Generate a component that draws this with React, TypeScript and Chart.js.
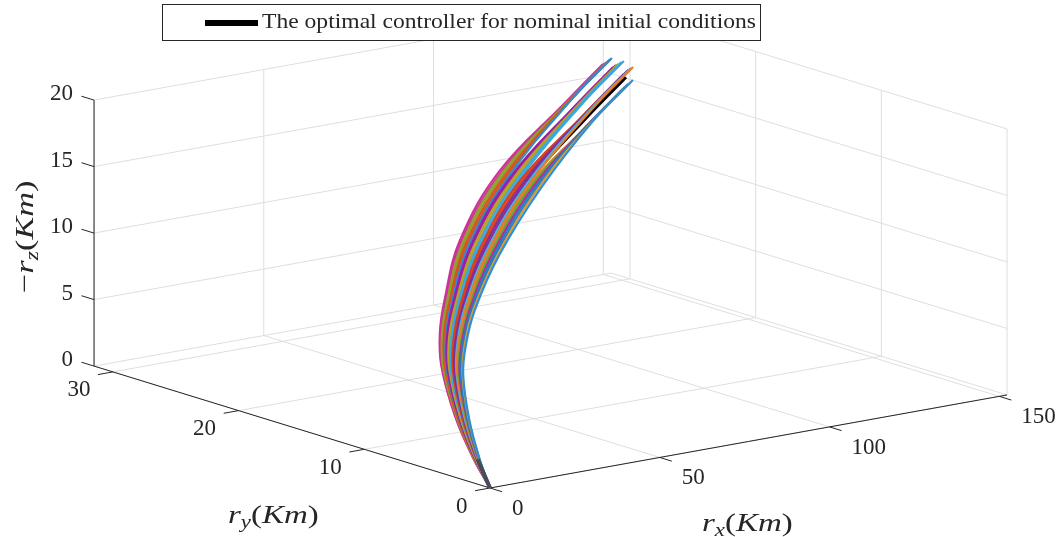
import React, { useEffect, useRef } from "react";
import { Chart, registerables } from "chart.js";

Chart.register(...registerables);

const xTicks = [0, 50, 100, 150];
const yTicks = [0, 10, 20, 30];
const zTicks = [0, 5, 10, 15, 20];
const xMax = 152.3;
const yMax = 31.5;
const zMax = 20;

const legendText = "The optimal controller for nominal initial conditions";

// Altitude samples shared by every run (-r_z, km)
const rzSamples = [0, 1, 2.5, 5, 6.5, 8, 11, 14, 17.5, 20];

// r_x of each run (km)
const rxRuns = [
  [0, 7.0, 16.6, 24.0, 32.1, 40.9, 55.3, 80.6, 104.8, 116.4],
  [0, 7.0, 16.6, 23.9, 32.0, 40.9, 55.2, 80.6, 105.8, 117.4],
  [0, 7.0, 16.7, 23.9, 31.9, 40.9, 55.2, 80.4, 106.7, 118.3],
  [0, 7.0, 16.7, 23.9, 31.8, 40.9, 55.1, 80.4, 108.0, 119.6],
  [0, 7.0, 16.7, 23.9, 31.7, 40.9, 55.1, 80.3, 108.8, 120.4],
  [0, 7.0, 16.8, 23.8, 31.6, 40.8, 55.1, 80.3, 109.3, 120.9],
  [0, 7.0, 16.8, 23.8, 31.5, 40.8, 55.0, 80.2, 110.1, 121.7],
  [0, 7.0, 16.8, 23.8, 31.4, 40.8, 55.0, 80.2, 104.9, 116.5],
  [0, 7.0, 16.9, 23.7, 31.3, 40.8, 54.9, 80.0, 106.6, 118.2],
  [0, 7.0, 16.9, 23.7, 31.2, 40.8, 54.9, 79.9, 107.6, 119.2],
  [0, 7.0, 16.9, 23.7, 31.1, 40.7, 54.9, 79.9, 108.6, 120.2],
  [0, 7.0, 17.0, 23.6, 31.0, 40.7, 54.8, 79.8, 109.5, 121.1],
  [0, 7.0, 17.0, 23.6, 31.0, 40.7, 54.8, 79.8, 110.5, 122.1],
  [0, 7.0, 17.0, 23.6, 30.9, 40.7, 54.7, 79.6, 100.3, 111.9],
  [0, 7.0, 17.0, 23.6, 30.8, 40.7, 54.7, 79.6, 102.6, 114.2],
  [0, 7.0, 17.1, 23.5, 30.7, 40.7, 54.6, 79.5, 105.1, 116.7],
  [0, 7.0, 17.1, 23.5, 30.6, 40.6, 54.6, 79.5, 106.3, 117.9],
  [0, 7.0, 17.1, 23.5, 30.5, 40.6, 54.6, 79.4, 107.6, 119.2],
  [0, 7.0, 17.2, 23.4, 30.4, 40.6, 54.5, 79.4, 108.6, 120.2],
  [0, 7.0, 17.2, 23.4, 30.3, 40.6, 54.5, 79.2, 91.9, 103.5],
  [0, 7.0, 17.2, 23.4, 30.2, 40.6, 54.4, 79.1, 93.4, 105.0],
  [0, 7.0, 17.3, 23.3, 30.1, 40.6, 54.4, 79.1, 95.0, 106.6],
  [0, 7.0, 17.3, 23.3, 30.0, 40.6, 54.3, 79.0, 96.6, 108.2],
  [0, 7.0, 17.3, 23.3, 29.9, 40.5, 54.3, 79.0, 97.8, 109.4],
  [0, 7.0, 17.4, 23.3, 29.8, 40.5, 54.3, 78.8, 99.1, 110.7],
  [0, 7.0, 17.4, 23.2, 29.7, 40.5, 54.2, 78.8, 100.7, 112.3],
];

// r_y of each run (km)
const ryRuns = [
  [0, 3.23, 7.25, 10.34, 12.66, 14.66, 17.34, 21.02, 22.45, 22.45],
  [0, 3.21, 7.21, 10.26, 12.55, 14.56, 17.2, 20.86, 22.55, 22.55],
  [0, 3.19, 7.18, 10.18, 12.44, 14.46, 17.07, 20.72, 22.66, 22.66],
  [0, 3.17, 7.14, 10.11, 12.33, 14.36, 16.93, 20.56, 22.85, 22.85],
  [0, 3.14, 7.11, 10.03, 12.22, 14.26, 16.79, 20.4, 22.98, 22.98],
  [0, 3.12, 7.07, 9.95, 12.12, 14.16, 16.65, 20.25, 23.04, 23.04],
  [0, 3.1, 7.03, 9.87, 12.01, 14.06, 16.52, 20.1, 23.17, 23.17],
  [0, 3.08, 7.0, 9.8, 11.9, 13.95, 16.37, 19.95, 21.67, 21.67],
  [0, 3.06, 6.96, 9.72, 11.79, 13.85, 16.23, 19.79, 21.9, 21.9],
  [0, 3.04, 6.93, 9.64, 11.68, 13.75, 16.1, 19.64, 22.01, 22.01],
  [0, 3.01, 6.89, 9.56, 11.57, 13.65, 15.96, 19.49, 22.11, 22.11],
  [0, 2.99, 6.85, 9.49, 11.46, 13.55, 15.82, 19.33, 22.23, 22.23],
  [0, 2.97, 6.82, 9.41, 11.35, 13.45, 15.68, 19.17, 22.33, 22.33],
  [0, 2.95, 6.78, 9.33, 11.25, 13.35, 15.55, 19.03, 19.81, 19.81],
  [0, 2.93, 6.75, 9.25, 11.14, 13.25, 15.41, 18.87, 20.21, 20.21],
  [0, 2.91, 6.71, 9.18, 11.03, 13.15, 15.27, 18.71, 20.61, 20.61],
  [0, 2.88, 6.67, 9.1, 10.92, 13.05, 15.13, 18.57, 20.79, 20.79],
  [0, 2.86, 6.64, 9.02, 10.81, 12.95, 15.0, 18.41, 20.98, 20.98],
  [0, 2.84, 6.6, 8.94, 10.7, 12.85, 14.86, 18.26, 21.08, 21.08],
  [0, 2.82, 6.57, 8.87, 10.59, 12.74, 14.71, 18.1, 17.53, 17.53],
  [0, 2.8, 6.53, 8.79, 10.48, 12.64, 14.58, 17.95, 17.79, 17.79],
  [0, 2.78, 6.49, 8.71, 10.37, 12.54, 14.44, 17.8, 18.06, 18.06],
  [0, 2.75, 6.46, 8.63, 10.27, 12.44, 14.3, 17.64, 18.32, 18.32],
  [0, 2.73, 6.42, 8.56, 10.16, 12.34, 14.16, 17.48, 18.51, 18.51],
  [0, 2.71, 6.39, 8.48, 10.05, 12.24, 14.03, 17.34, 18.69, 18.69],
  [0, 2.69, 6.35, 8.4, 9.94, 12.14, 13.89, 17.18, 18.96, 18.96],
];

const rxNominal = [0, 7.0, 17.1, 23.5, 30.6, 40.6, 54.9, 79.4, 101.2, 112.8];
const ryNominal = [0, 2.87, 6.65, 9.05, 10.85, 13.0, 15.0, 18.38, 19.66, 19.66];

const runColors = [
  "#D0309A", "#D0309A", "#8FA030", "#8FA030", "#D8521E", "#D8521E", "#2F8FC8",
  "#9A1FA8", "#9A1FA8", "#B8A024", "#B8A024", "#3AA8DC", "#3AA8DC", "#D8401E",
  "#D8401E", "#7E2F9E", "#7E2F9E", "#45B5E5", "#E0802A", "#E0802A", "#5FA83A",
  "#C2268A", "#2C78C4", "#2C78C4", "#E0A028", "#2E8FD8",
];

const GRID = "#dedede";
const AXIS = "#262626";
const TEXT = "#262626";
const SERIF = '"Liberation Serif"';

// Orthographic view of the MATLAB-style 3-D axes (px per km)
const view = {
  ox: 490, oy: 488,
  xx: 3.395, xy: -0.611,
  yx: -12.57, yy: -3.87,
  zy: -13.3,
};
const project = (rx: number, ry: number, rz: number) => ({
  x: view.ox + view.xx * rx + view.yx * ry,
  y: view.oy + view.xy * rx + view.yy * ry + view.zy * rz,
});

type P3 = [number, number, number];
const seg = (a: P3, b: P3, color: string, width: number, label: string) => ({
  label,
  data: [project(...a), project(...b)],
  borderColor: color,
  borderWidth: width,
  pointRadius: 0,
  showLine: true,
  tension: 0,
  fill: false,
});

function buildDatasets() {
  const sets: any[] = [];
  // grid
  xTicks.forEach((x) => {
    sets.push(seg([x, 0, 0], [x, yMax, 0], GRID, 1, "grid"));
    sets.push(seg([x, yMax, 0], [x, yMax, zMax], GRID, 1, "grid"));
  });
  yTicks.forEach((y) => {
    sets.push(seg([0, y, 0], [xMax, y, 0], GRID, 1, "grid"));
    sets.push(seg([xMax, y, 0], [xMax, y, zMax], GRID, 1, "grid"));
  });
  zTicks.forEach((z) => {
    sets.push(seg([0, yMax, z], [xMax, yMax, z], GRID, 1, "grid"));
    sets.push(seg([xMax, 0, z], [xMax, yMax, z], GRID, 1, "grid"));
  });
  // axes and ticks
  sets.push(seg([0, 0, 0], [xMax, 0, 0], AXIS, 1, "axis"));
  sets.push(seg([0, 0, 0], [0, yMax, 0], AXIS, 1, "axis"));
  sets.push(seg([0, yMax, 0], [0, yMax, zMax], AXIS, 1, "axis"));
  xTicks.forEach((x) => sets.push(seg([x, 0, 0], [x, -0.96, 0], AXIS, 1, "tick")));
  yTicks.forEach((y) => sets.push(seg([0, y, 0], [-4.4, y, 0], AXIS, 1, "tick")));
  zTicks.forEach((z) => sets.push(seg([0, yMax, z], [0, yMax + 1.0, z], AXIS, 1, "tick")));
  // black nominal underneath, then the runs
  const curve = (rx: number[], ry: number[], color: string, width: number, label: string) => ({
    label,
    data: rx.map((v, i) => project(v, ry[i], rzSamples[i])),
    borderColor: color,
    borderWidth: width,
    pointRadius: 0,
    showLine: true,
    tension: 0.4,
    fill: false,
  });
  sets.push(curve(rxNominal, ryNominal, "#000000", 3.5, legendText));
  rxRuns.forEach((rx, i) => {
    sets.push(curve(rx, ryRuns[i], runColors[i % runColors.length], 2.2, `run ${i + 1}`));
  });
  // the runs converge at the release point and read as a dark tail there
  sets.push({
    label: "tail",
    data: [0, 1].map((i) => project(rxNominal[i], ryNominal[i], rzSamples[i])),
    borderColor: "rgba(60,60,60,0.75)",
    borderWidth: 4,
    pointRadius: 0,
    showLine: true,
    tension: 0,
    fill: false,
  });
  // Chart.js paints the first dataset last
  return sets.reverse();
}

type Run = { t: string; font: string; dy?: number };
function drawRuns(ctx: CanvasRenderingContext2D, runs: Run[], x: number, y: number, stretch: number) {
  ctx.save();
  ctx.translate(x, y);
  ctx.scale(stretch, 1);
  let cx = 0;
  runs.forEach((r) => {
    ctx.font = r.font;
    ctx.fillText(r.t, cx, r.dy || 0);
    cx += ctx.measureText(r.t).width;
  });
  ctx.restore();
}

const labelPlugin = {
  id: "labels3d",
  afterDatasetsDraw(chart: any) {
    const ctx: CanvasRenderingContext2D = chart.ctx;
    const sx = chart.scales.x;
    const sy = chart.scales.y;
    const at = (p: { x: number; y: number }) => ({ x: sx.getPixelForValue(p.x), y: sy.getPixelForValue(p.y) });
    ctx.save();
    ctx.fillStyle = TEXT;
    ctx.textBaseline = "middle";
    ctx.font = `23px ${SERIF}`;
    ctx.textAlign = "right";
    zTicks.forEach((z) => {
      const p = at(project(0, yMax, z));
      ctx.fillText(String(z), p.x - 21, p.y - 6);
    });
    yTicks.forEach((y) => {
      const p = at(project(0, y, 0));
      ctx.fillText(String(y), p.x - 22.5, p.y + 18.5);
    });
    ctx.textAlign = "left";
    xTicks.forEach((x) => {
      const p = at(project(x, 0, 0));
      ctx.fillText(String(x), p.x + 22, p.y + 21);
    });

    // axis titles
    const it = `italic 26px ${SERIF}`;
    const rm = `26px ${SERIF}`;
    const sub = `italic 18px ${SERIF}`;
    ctx.textBaseline = "alphabetic";
    drawRuns(ctx, [
      { t: "r", font: it }, { t: "y", font: sub, dy: 5 }, { t: "(", font: rm },
      { t: "Km", font: it }, { t: ")", font: rm },
    ], 228, 523, 1.27);
    drawRuns(ctx, [
      { t: "r", font: it }, { t: "x", font: sub, dy: 5 }, { t: "(", font: rm },
      { t: "Km", font: it }, { t: ")", font: rm },
    ], 702, 531, 1.27);
    ctx.save();
    ctx.translate(33, 293);
    ctx.rotate(-Math.PI / 2);
    drawRuns(ctx, [
      { t: "\u2212", font: rm }, { t: "r", font: it }, { t: "z", font: sub, dy: 5 },
      { t: "(", font: rm }, { t: "Km", font: it }, { t: ")", font: rm },
    ], 0, 0, 1.32);
    ctx.restore();

    // legend
    ctx.fillStyle = "#ffffff";
    ctx.fillRect(162.5, 4.5, 598, 36);
    ctx.strokeStyle = AXIS;
    ctx.lineWidth = 1;
    ctx.strokeRect(162.5, 4.5, 598, 36);
    ctx.strokeStyle = "#000000";
    ctx.lineWidth = 6;
    ctx.beginPath();
    ctx.moveTo(205, 23);
    ctx.lineTo(258, 23);
    ctx.stroke();
    ctx.fillStyle = TEXT;
    ctx.font = `21px ${SERIF}`;
    const w = ctx.measureText(legendText).width;
    ctx.save();
    ctx.translate(262, 28);
    ctx.scale(494 / w, 1);
    ctx.fillText(legendText, 0, 0);
    ctx.restore();
    ctx.restore();
  },
};

export default function App() {
  const ref = useRef<HTMLCanvasElement>(null);
  useEffect(() => {
    document.body.style.margin = "0";
    document.body.style.background = "#ffffff";
    const chart = new Chart(ref.current as HTMLCanvasElement, {
      type: "scatter",
      data: { datasets: buildDatasets() },
      options: {
        animation: false,
        responsive: false,
        layout: { padding: 0 },
        plugins: { legend: { display: false }, tooltip: { enabled: false } },
        scales: {
          x: { type: "linear", min: 0, max: 1063, display: false },
          y: { type: "linear", min: 0, max: 537, reverse: true, display: false },
        },
      },
      plugins: [labelPlugin],
    } as any);
    return () => chart.destroy();
  }, []);
  return <canvas ref={ref} width={1063} height={537} style={{ display: "block" }} />;
}
